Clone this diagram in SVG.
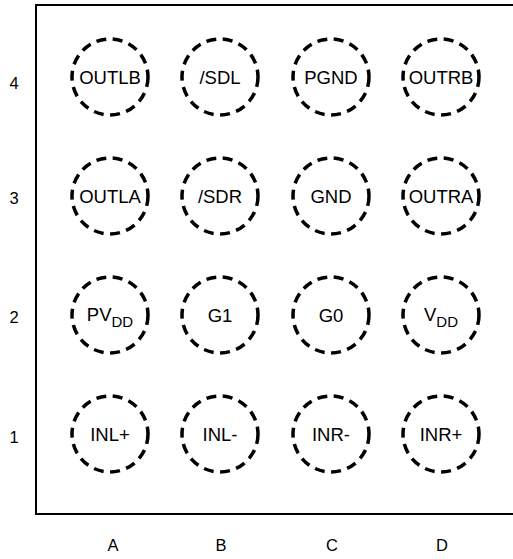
<svg xmlns="http://www.w3.org/2000/svg" width="513" height="559" viewBox="0 0 513 559">
<style>
.pin{fill:none;stroke:#000;stroke-width:3.5;stroke-dasharray:10 6.5}
.t{font-family:"Liberation Sans",Arial,sans-serif;font-size:18.5px;fill:#000;text-anchor:middle}
.s{font-size:15px}
.lab{font-family:"Liberation Sans",Arial,sans-serif;font-size:16.5px;fill:#000;text-anchor:middle}
</style>
<rect width="513" height="559" fill="#fff"/>
<path d="M36 514 V5 H520 V514 Z" fill="none" stroke="#000" stroke-width="2"/>
<g id="rowlabels">
<text class="lab" x="14" y="89">4</text>
<text class="lab" x="14" y="204">3</text>
<text class="lab" x="14" y="323">2</text>
<text class="lab" x="14" y="443">1</text>
</g>
<g id="collabels">
<text class="lab" x="113" y="551">A</text>
<text class="lab" x="221" y="551">B</text>
<text class="lab" x="332" y="551">C</text>
<text class="lab" x="442" y="551">D</text>
</g>
<g id="A4"><circle class="pin" cx="110" cy="77" r="38"/><text class="t" x="110" y="84">OUTLB</text></g>
<g id="B4"><circle class="pin" cx="220" cy="77" r="38"/><text class="t" x="220" y="84">/SDL</text></g>
<g id="C4"><circle class="pin" cx="331" cy="77" r="38"/><text class="t" x="331" y="84">PGND</text></g>
<g id="D4"><circle class="pin" cx="441" cy="77" r="38"/><text class="t" x="441" y="84">OUTRB</text></g>
<g id="A3"><circle class="pin" cx="110" cy="196" r="38"/><text class="t" x="110" y="203">OUTLA</text></g>
<g id="B3"><circle class="pin" cx="220" cy="196" r="38"/><text class="t" x="220" y="203">/SDR</text></g>
<g id="C3"><circle class="pin" cx="331" cy="196" r="38"/><text class="t" x="331" y="203">GND</text></g>
<g id="D3"><circle class="pin" cx="441" cy="196" r="38"/><text class="t" x="441" y="203">OUTRA</text></g>
<g id="A2"><circle class="pin" cx="110" cy="315" r="38"/><text class="t" x="110" y="321">PV<tspan class="s" dy="6">DD</tspan></text></g>
<g id="B2"><circle class="pin" cx="220" cy="315" r="38"/><text class="t" x="220" y="322">G1</text></g>
<g id="C2"><circle class="pin" cx="331" cy="315" r="38"/><text class="t" x="331" y="322">G0</text></g>
<g id="D2"><circle class="pin" cx="441" cy="315" r="38"/><text class="t" x="441" y="321">V<tspan class="s" dy="6">DD</tspan></text></g>
<g id="A1"><circle class="pin" cx="110" cy="434" r="38"/><text class="t" x="110" y="441">INL+</text></g>
<g id="B1"><circle class="pin" cx="220" cy="434" r="38"/><text class="t" x="220" y="441">INL-</text></g>
<g id="C1"><circle class="pin" cx="331" cy="434" r="38"/><text class="t" x="331" y="441">INR-</text></g>
<g id="D1"><circle class="pin" cx="441" cy="434" r="38"/><text class="t" x="441" y="441">INR+</text></g>
</svg>
